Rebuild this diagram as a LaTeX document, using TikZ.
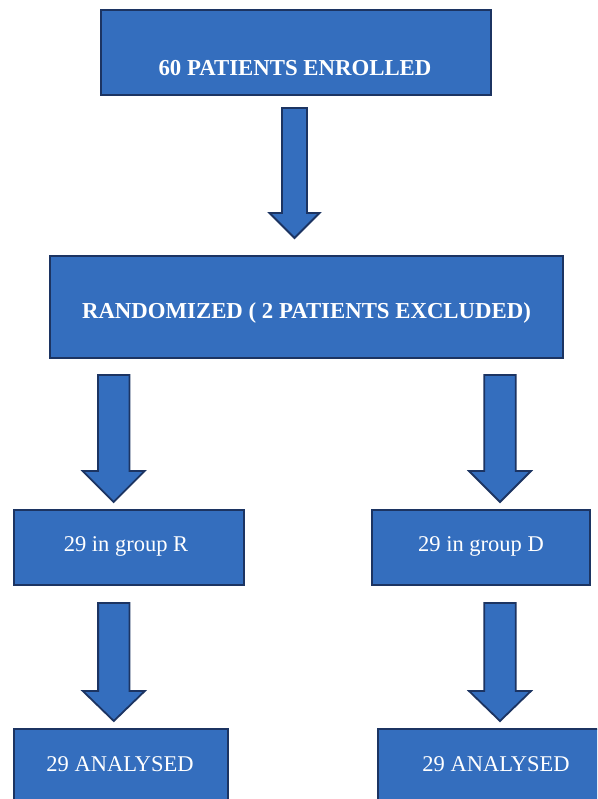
\documentclass[tikz,border=0pt]{standalone}
\usepackage{fontspec}
\setmainfont{Liberation Serif}
\definecolor{boxfill}{RGB}{52,110,190}
\definecolor{boxline}{RGB}{28,52,98}
\tikzset{
  flowbox/.style={draw=boxline, fill=boxfill, line width=2.2pt},
  boldtxt/.style={text=white, inner sep=0pt, font=\fontsize{22.8}{26}\selectfont\bfseries},
  plaintxt/.style={text=white, inner sep=0pt, font=\fontsize{22.5}{26}\selectfont},
  blockarrow/.style={draw=boxline, fill=boxfill, line width=1.8pt, line join=miter}
}
% \barrow{name}{cx}{ytop}{yhead}{ytip}{shafthalf}{headhalf}
\newcommand{\barrow}[7]{%
  \draw[blockarrow] (#2-#6,#3) -- (#2+#6,#3) -- (#2+#6,#4) -- (#2+#7,#4)
    -- (#2,#5) coordinate (#1) -- (#2-#7,#4) -- (#2-#6,#4) -- cycle;}
\begin{document}
\begin{tikzpicture}[x=1pt,y=-1pt]
\useasboundingbox (0,0) rectangle (597,799);
\clip (0,0) rectangle (597,799);
\fill[white] (0,0) rectangle (597,799);
% boxes
\draw[flowbox] (101,10) rectangle (491,95) coordinate (b1);
\node[boldtxt] (t1) at (295,68) {60 PATIENTS ENROLLED};
\draw[flowbox] (50,256) rectangle (563,358) coordinate (b2);
\node[boldtxt] (t2) at (306.5,313) {RANDOMIZED ( 2 PATIENTS EXCLUDED)};
\draw[flowbox] (14,510) rectangle (244,585) coordinate (bR);
\node[plaintxt] (tR) at (126,546) {29 in group R};
\draw[flowbox] (372,510) rectangle (590,585) coordinate (bD);
\node[plaintxt] (tD) at (481,546) {29 in group D};
\draw[flowbox] (14,729) rectangle (228,815) coordinate (bAL);
\node[plaintxt] (tAL) at (120,764) {29 ANALYSED};
\draw[flowbox] (378,729) rectangle (610,815) coordinate (bAR);
\node[plaintxt] (tAR) at (496,764) {29 ANALYSED};
% arrows
\barrow{a1}{294.5}{108}{213}{238}{12.5}{25}
\barrow{a2l}{113.7}{375}{471}{502}{15.7}{31}
\barrow{a2r}{500}{375}{471}{502}{15.7}{31}
\barrow{a3l}{113.8}{603}{691}{721}{15.7}{31}
\barrow{a3r}{500}{603}{691}{721}{15.7}{31}
\end{tikzpicture}
\end{document}
